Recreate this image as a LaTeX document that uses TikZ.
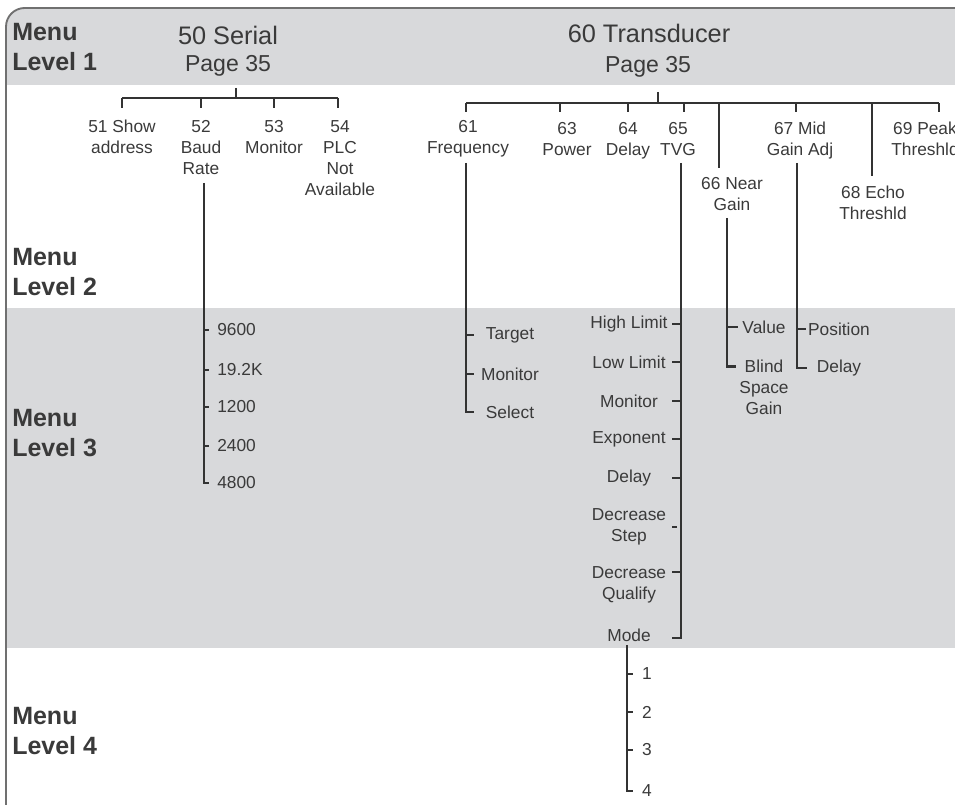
\documentclass[tikz,border=0pt]{standalone}
\usepackage{fontspec}
\setmainfont{Liberation Sans}
\usetikzlibrary{calc}
\definecolor{cBand} {RGB}{216,217,219}
\definecolor{cInk}  {RGB}{58,58,58}
\definecolor{cWire} {RGB}{51,51,51}
\definecolor{cBrd}  {RGB}{112,112,112}
\tikzset{
  wire/.style={draw=cWire,line width=1.7pt},
  brd/.style={draw=cBrd,line width=1.4pt},
  lvl/.style={anchor=west,align=left,text=cInk,inner sep=0pt,
              font=\bfseries\fontsize{18.75}{22.5}\selectfont}, % menu level tag
  ttl/.style={text=cInk,inner sep=0pt,font=\fontsize{19}{22}\selectfont},
  pg/.style={text=cInk,inner sep=0pt,font=\fontsize{17.3}{20}\selectfont},
  itm/.style={text=cInk,inner sep=0pt,align=center,
              font=\fontsize{13}{15.75}\selectfont},               % menu entry
  itmT/.style={itm,anchor=north},                                 % entry hung from a tick
}

\begin{document}
\begin{tikzpicture}[x=0.75pt,y=-0.75pt]
  \useasboundingbox (0,0) rectangle (955,805);

  % level bands, clipped to the rounded frame
  \begin{scope}
    \clip[rounded corners=14] (6,8) rectangle (975,830);
    \fill[cBand] (6,8)   rectangle (975,85);
    \fill[cBand] (6,308) rectangle (975,648);
  \end{scope}
  \draw[brd,rounded corners=14] (6,830) -- (6,8) -- (975,8);

  % level tags
  \node[lvl] (L1) at (12,47)  {Menu\\Level 1};
  \node[lvl] (L2) at (12,272) {Menu\\Level 2};
  \node[lvl] (L3) at (12,433) {Menu\\Level 3};
  \node[lvl] (L4) at (12,731) {Menu\\Level 4};

  % level 1
  \node[ttl] (t50) at (228,35) {50 Serial};
  \node[pg]  (p50) at (228,66) {Page 35};
  \node[ttl] (t60) at (649,33) {60 Transducer};
  \node[pg]  (p60) at (648,67) {Page 35};

  % level 2 -- serial branch
  \coordinate (r50) at (236,88);
  \coordinate (j50) at (236,98);
  \foreach \k/\x/\t in {51/122/{51 Show\\address},52/201/{52\\Baud\\Rate},
                        53/274/{53\\Monitor},54/340/{54\\PLC\\Not\\Available}}
    \node[itmT] (n\k) at (\x,120) {\t};
  \foreach \k/\x in {51/122,52/201,53/274,54/338}{
    \coordinate (k\k) at (\x,108);
    \draw[wire] (k\k |- j50) -- (k\k);
  }
  \draw[wire] (k51 |- j50) -- (k54 |- j50);
  \draw[wire] (r50) -- (j50);

  % level 2 -- transducer branch
  \coordinate (r60) at (658,92);
  \coordinate (j60) at (658,103);
  \foreach \k/\x/\y/\t in {61/468/120/{61\\Frequency},63/567/122/{63\\Power},
                           64/628/122/{64\\Delay},65/678/122/{65\\TVG},
                           66/732/177/{66 Near\\Gain},67/800/122/{67 Mid\\Gain Adj},
                           68/873/186/{68 Echo\\Threshld},69/925/122/{69 Peak\\Threshld}}
    \node[itmT] (n\k) at (\x,\y) {\t};
  \foreach \k/\x/\y in {61/466/112,63/560/112,64/628/112,65/684/112,
                        66/719/168,67/796/112,68/872/176,69/939/112}{
    \coordinate (k\k) at (\x,\y);
    \draw[wire] (k\k |- j60) -- (k\k);
  }
  \draw[wire] (k61 |- j60) -- (k69 |- j60);
  \draw[wire] (r60) -- (j60);

  % stem tops under the level 2 entries
  \coordinate (s52) at (204,183);
  \coordinate (s61) at (466,163);
  \coordinate (s65) at (681,163);
  \coordinate (s66) at (727,218);
  \coordinate (s67) at (797,163);

  % level 3 -- baud rate
  \foreach \t/\y [count=\i] in {9600/330,19.2K/370,1200/407,2400/446,4800/483}
    \node[itm,anchor=west] (b\i) at (217,\y) {\t};
  \foreach \i in {1,...,4} \draw[wire] (b\i.west -| s52) -- ++(5,0);
  \draw[wire] (s52) -- (b5.west -| s52) -- ++(5,0);

  % level 3 -- frequency
  \foreach \t/\y [count=\i] in {Target/335,Monitor/374,Select/412}
    \node[itm] (f\i) at (510,\y) {\t};
  \foreach \i in {1,2} \draw[wire] (f\i.west -| s61) -- ++(8,0);
  \draw[wire] (s61) -- (f3.west -| s61) -- ++(8,0);

  % level 3 -- TVG (ticks on the left of the stem; step tick stands off)
  \foreach \t/\y/\dy/\g [count=\i] in {High Limit/324/0/0,Low Limit/362/0/0,
                                       Monitor/401/0/0,Exponent/439/0/0,Delay/478/0/0,
                                       {Decrease\\Step}/527/0/4,
                                       {Decrease\\Qualify}/585/-13/0}{
    \node[itm] (v\i) at (629,\y) {\t};
    \draw[wire] ($(v\i.east -| s65)+(-\g,\dy)$) -- ++(-9+\g,0);
  }
  \node[itm] (v8) at (629,635) {Mode};
  \draw[wire] (s65) -- ($(v8.east -| s65)+(0,3)$) -- ++(-9,0);

  % level 3 -- near gain
  \node[itm] (g1) at (764,327) {Value};
  \node[itm] (g2) at (764,387) {Blind\\Space\\Gain};
  \draw[wire] (g1.west -| s66) -- ++(11,0);
  \draw[wire] (s66) |- ($(g2.north west)+(-3,7)$);

  % level 3 -- mid gain adj
  \node[itm] (d1) at (839,329) {Position};
  \node[itm] (d2) at (839,368) {Delay};
  \draw[wire] (d1.west -| s67) -- ++(9,0);
  \draw[wire] (s67) -- (d2.west -| s67) -- ++(10,0);

  % level 4 -- mode
  \coordinate (sMd) at (627,645);
  \foreach \t/\y in {1/674,2/712,3/750,4/791}
    \node[itm] (m\t) at (647,\y) {\t};
  \foreach \i in {1,2,3} \draw[wire] (m\i.west -| sMd) -- ++(6,0);
  \draw[wire] (sMd) -- (m4.west -| sMd) -- ++(6,0);
\end{tikzpicture}
\end{document}
